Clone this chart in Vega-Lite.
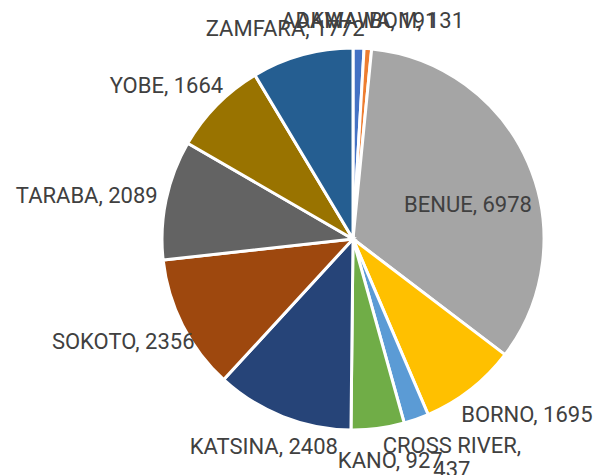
{
  "$schema": "https://vega.github.io/schema/vega-lite/v6.json",
  "width": 486,
  "height": 464,
  "autosize": {"type": "none"},
  "padding": {"left": 110, "top": 7, "right": 0, "bottom": 4},
  "background": "white",
  "config": {"view": {"stroke": null}, "text": {"font": "Roboto", "fontSize": 22, "fill": "#404040"}},
  "data": {
    "values": [
      {"state": "ADAMAWA", "value": 191, "label": "ADAMAWA, 191"},
      {"state": "AKWA IBOM", "value": 131, "label": "AKWA IBOM, 131"},
      {"state": "BENUE", "value": 6978, "label": "BENUE, 6978"},
      {"state": "BORNO", "value": 1695, "label": "BORNO, 1695"},
      {"state": "CROSS RIVER", "value": 437, "label": "CROSS RIVER,\n437"},
      {"state": "KANO", "value": 927, "label": "KANO, 927"},
      {"state": "KATSINA", "value": 2408, "label": "KATSINA, 2408"},
      {"state": "SOKOTO", "value": 2356, "label": "SOKOTO, 2356"},
      {"state": "TARABA", "value": 2089, "label": "TARABA, 2089"},
      {"state": "YOBE", "value": 1664, "label": "YOBE, 1664"},
      {"state": "ZAMFARA", "value": 1772, "label": "ZAMFARA, 1772"}
    ]
  },
  "layer": [
    {
      "mark": {"type": "arc", "outerRadius": 191, "stroke": "white", "strokeWidth": 3},
      "encoding": {
        "theta": {"field": "value", "type": "quantitative", "stack": true},
        "color": {
          "field": "state", "type": "nominal", "legend": null,
          "scale": {
            "domain": ["ADAMAWA", "AKWA IBOM", "BENUE", "BORNO", "CROSS RIVER", "KANO", "KATSINA", "SOKOTO", "TARABA", "YOBE", "ZAMFARA"],
            "range": ["#4472C4", "#ED7D31", "#A5A5A5", "#FFC000", "#5B9BD5", "#70AD47", "#264478", "#9E480E", "#636363", "#997300", "#255E91"]
          }
        }
      }
    },
    {
      "mark": {"type": "text", "radius": 218, "dx": 0, "dy": 0, "align": "center", "baseline": "middle"},
      "encoding": {"theta": {"field": "value", "type": "quantitative", "stack": true},
        "text": {"condition": {"test": "datum.state === 'ADAMAWA'", "field": "label"}, "value": ""}}
    },
    {
      "mark": {"type": "text", "radius": 219, "dx": 10, "dy": 0, "align": "center", "baseline": "middle"},
      "encoding": {"theta": {"field": "value", "type": "quantitative", "stack": true},
        "text": {"condition": {"test": "datum.state === 'AKWA IBOM'", "field": "label"}, "value": ""}}
    },
    {
      "mark": {"type": "text", "radius": 120, "dx": 5, "dy": 14, "align": "center", "baseline": "middle"},
      "encoding": {"theta": {"field": "value", "type": "quantitative", "stack": true},
        "text": {"condition": {"test": "datum.state === 'BENUE'", "field": "label"}, "value": ""}}
    },
    {
      "mark": {"type": "text", "radius": 247, "dx": 22, "dy": -19, "align": "center", "baseline": "middle"},
      "encoding": {"theta": {"field": "value", "type": "quantitative", "stack": true},
        "text": {"condition": {"test": "datum.state === 'BORNO'", "field": "label"}, "value": ""}}
    },
    {
      "mark": {"type": "text", "radius": 232, "dx": 22, "dy": -22, "align": "center", "baseline": "top", "lineBreak": "\n", "lineHeight": 24},
      "encoding": {"theta": {"field": "value", "type": "quantitative", "stack": true},
        "text": {"condition": {"test": "datum.state === 'CROSS RIVER'", "field": "label"}, "value": ""}}
    },
    {
      "mark": {"type": "text", "radius": 225, "dx": 8, "dy": -1, "align": "center", "baseline": "middle"},
      "encoding": {"theta": {"field": "value", "type": "quantitative", "stack": true},
        "text": {"condition": {"test": "datum.state === 'KANO'", "field": "label"}, "value": ""}}
    },
    {
      "mark": {"type": "text", "radius": 226, "dx": -6, "dy": -2, "align": "center", "baseline": "middle"},
      "encoding": {"theta": {"field": "value", "type": "quantitative", "stack": true},
        "text": {"condition": {"test": "datum.state === 'KATSINA'", "field": "label"}, "value": ""}}
    },
    {
      "mark": {"type": "text", "radius": 252, "dx": -5, "dy": -11, "align": "center", "baseline": "middle"},
      "encoding": {"theta": {"field": "value", "type": "quantitative", "stack": true},
        "text": {"condition": {"test": "datum.state === 'SOKOTO'", "field": "label"}, "value": ""}}
    },
    {
      "mark": {"type": "text", "radius": 270, "dx": -2, "dy": 13, "align": "center", "baseline": "middle"},
      "encoding": {"theta": {"field": "value", "type": "quantitative", "stack": true},
        "text": {"condition": {"test": "datum.state === 'TARABA'", "field": "label"}, "value": ""}}
    },
    {
      "mark": {"type": "text", "radius": 241, "dx": -15, "dy": 16, "align": "center", "baseline": "middle"},
      "encoding": {"theta": {"field": "value", "type": "quantitative", "stack": true},
        "text": {"condition": {"test": "datum.state === 'YOBE'", "field": "label"}, "value": ""}}
    },
    {
      "mark": {"type": "text", "radius": 221, "dx": -9, "dy": 3, "align": "center", "baseline": "middle"},
      "encoding": {"theta": {"field": "value", "type": "quantitative", "stack": true},
        "text": {"condition": {"test": "datum.state === 'ZAMFARA'", "field": "label"}, "value": ""}}
    }
  ]
}
